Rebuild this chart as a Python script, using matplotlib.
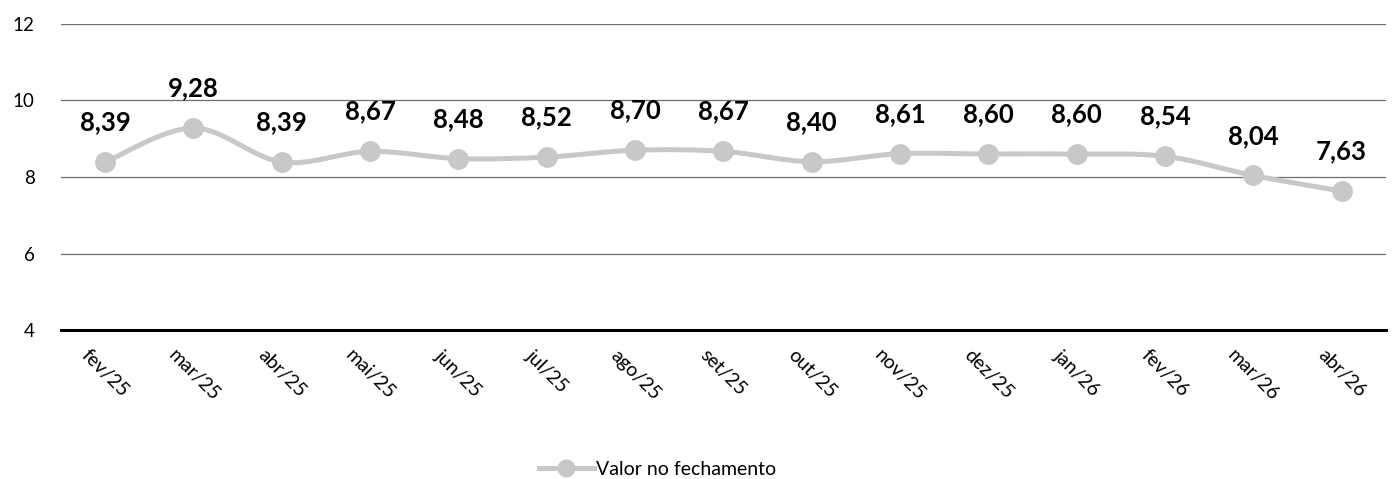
import numpy as np
import matplotlib.pyplot as plt
from matplotlib.path import Path
from matplotlib.patches import PathPatch

plt.rcParams['font.family'] = ['Lato', 'DejaVu Sans']

months = ['fev/25', 'mar/25', 'abr/25', 'mai/25', 'jun/25', 'jul/25', 'ago/25', 'set/25',
          'out/25', 'nov/25', 'dez/25', 'jan/26', 'fev/26', 'mar/26', 'abr/26']
values = [8.39, 9.28, 8.39, 8.67, 8.48, 8.52, 8.70, 8.67, 8.40, 8.61, 8.60, 8.60, 8.54, 8.04, 7.63]
series_name = 'Valor no fechamento'

gray = '#c7c8ca'

fig = plt.figure(figsize=(13.93, 4.79), dpi=100)
ax = fig.add_axes([0.0438, 0.311, 0.951, 0.639])

x = np.arange(len(values))
y = np.array(values)

# smooth line like Excel (cardinal spline through the points, drawn as bezier)
verts = [(x[0], y[0])]
codes = [Path.MOVETO]
t = 1 / 6
for i in range(len(x) - 1):
    p0 = (x[max(i - 1, 0)], y[max(i - 1, 0)])
    p1 = (x[i], y[i])
    p2 = (x[i + 1], y[i + 1])
    p3 = (x[min(i + 2, len(x) - 1)], y[min(i + 2, len(x) - 1)])
    c1 = (p1[0] + (p2[0] - p0[0]) * t, p1[1] + (p2[1] - p0[1]) * t)
    c2 = (p2[0] - (p3[0] - p1[0]) * t, p2[1] - (p3[1] - p1[1]) * t)
    verts += [c1, c2, p2]
    codes += [Path.CURVE4] * 3
ax.add_patch(PathPatch(Path(verts, codes), fill=False, edgecolor=gray, lw=3.6,
                       capstyle='round', zorder=3))
ax.plot(x, y, ls='none', marker='o', ms=14, color=gray, zorder=4)
# legend proxy
ax.plot([], [], color=gray, lw=3.6, marker='o', ms=12, label=series_name)

for xi, v in zip(x, values):
    ax.annotate(f'{v:.2f}'.replace('.', ','), (xi, v), xytext=(0, 20),
                textcoords='offset points', ha='center', va='bottom',
                fontsize=18.5, fontweight='bold', color='black')

ax.set_xlim(-0.5, len(values) - 0.5)
ax.set_ylim(4, 12)
ax.set_yticks([4, 6, 8, 10, 12])
ax.tick_params(axis='y', length=0, labelsize=13.5, pad=19)
for yy in [6, 8, 10, 12]:
    ax.axhline(yy, color='#6f6f6f', lw=0.9, zorder=1)
ax.axhline(4, color='black', lw=2.2, zorder=2, clip_on=False)
for s in ax.spines.values():
    s.set_visible(False)

ax.set_xticks(x)
ax.set_xticklabels(months, rotation=-45, ha='center', va='top', fontsize=14)
ax.tick_params(axis='x', length=0, pad=12)

fig.legend(loc='lower center', bbox_to_anchor=(0.472, -0.035), frameon=False, fontsize=14,
           handlelength=2.8, handletextpad=0.1)

fig.savefig('out.png', dpi=100)
